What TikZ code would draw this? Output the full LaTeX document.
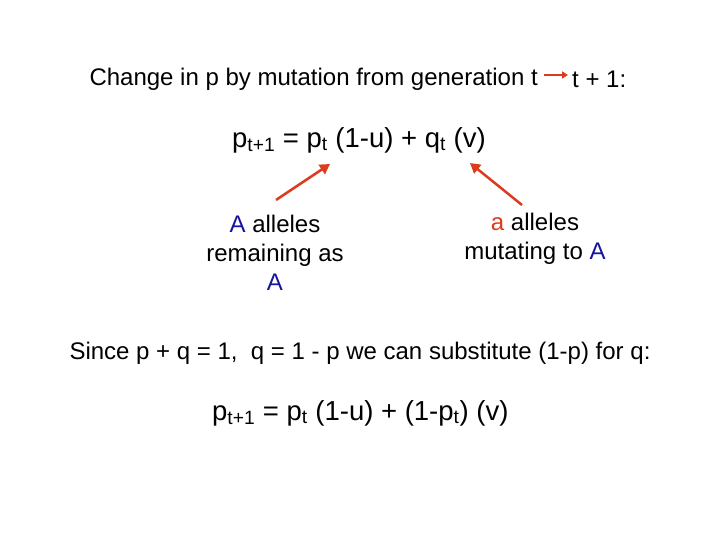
\documentclass[tikz,border=0pt]{standalone}
\usepackage{fontspec}
\setmainfont{Liberation Sans}
\usetikzlibrary{arrows.meta}
\definecolor{ared}{RGB}{220,60,30}
\definecolor{ablue}{RGB}{20,20,160}
\tikzset{txt/.style={inner sep=0pt,font=\fontsize{24}{29}\selectfont,align=center},
eq/.style={inner sep=0pt,font=\fontsize{27.5}{30}\selectfont},
rarrow/.style={draw=ared,line width=2.5pt,-{Triangle[length=10pt,width=11pt]}}}
\begin{document}
\begin{tikzpicture}[x=1pt,y=-1pt]
\useasboundingbox (0,0) rectangle (720,540);
\node[txt,anchor=east] (t1) at (538,79) {Change in p by mutation from generation t};
\node[txt,anchor=west] (t2) at (572,79) {t + 1:};
\draw[draw=ared,line width=2pt,-{Triangle[length=6pt,width=7pt]}] ([xshift=6pt,yshift=4pt]t1.east) -- ([xshift=-4pt,yshift=4pt]t2.west);
\node[eq,anchor=west] (e1) at (232,140) {p\textsubscript{t+1} = p\textsubscript{t} (1-u) + q\textsubscript{t} (v)};
\node[txt] (l) at (275,253) {\textcolor{ablue}{A} alleles\\remaining as\\\textcolor{ablue}{A}};
\node[txt] (r) at (535,239) {\textcolor{ared}{a} alleles\\mutating to \textcolor{ablue}{A}};
\coordinate (la) at (330,164);
\coordinate (ra) at (470,163);
\coordinate (lt) at (276,200);
\coordinate (rt) at (522,205);
\draw[rarrow] (lt) -- (la);
\draw[rarrow] (rt) -- (ra);
\node[txt] (s) at (360,353) {Since p + q = 1,\ \ q = 1 - p we can substitute (1-p) for q:};
\node[eq,anchor=west] (e2) at (212,413) {p\textsubscript{t+1} = p\textsubscript{t} (1-u) + (1-p\textsubscript{t}) (v)};
\end{tikzpicture}
\end{document}
